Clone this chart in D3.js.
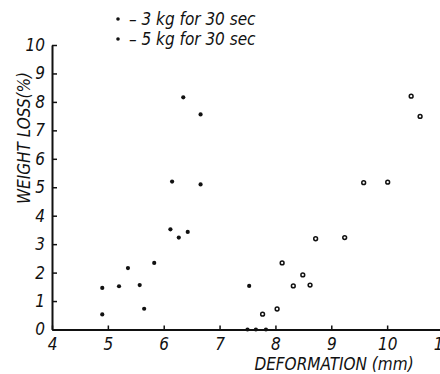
<!DOCTYPE html>
<html>
<head>
<meta charset="utf-8">
<script src="https://cdn.jsdelivr.net/npm/d3@7"></script>
<style>
  body { margin: 0; background: #fff; }
  svg text { font-family: "Liberation Sans Narrow", "DejaVu Sans Condensed", "Liberation Sans", sans-serif; font-style: italic; fill: #111; }
</style>
</head>
<body>
<div id="chart"></div>
<script>
// 3 kg for 30 sec (solid dots)
const kg3Deform = [4.90, 4.90, 5.20, 5.36, 5.57, 5.65, 5.83, 6.12, 6.27, 6.43, 6.15, 6.66, 6.35, 6.66, 7.53, 7.50, 7.65, 7.83];
const kg3Loss = [0.53, 1.46, 1.52, 2.16, 1.56, 0.73, 2.34, 3.52, 3.23, 3.43, 5.20, 5.10, 8.16, 7.56, 1.53, 0, 0, 0];
// 5 kg for 30 sec (ringed dots)
const kg5Deform = [7.77, 8.03, 8.12, 8.32, 8.49, 8.62, 8.72, 9.24, 9.58, 10.01, 10.43, 10.59];
const kg5Loss = [0.54, 0.72, 2.34, 1.53, 1.92, 1.56, 3.19, 3.23, 5.16, 5.18, 8.20, 7.49];

const xTicks = [4, 5, 6, 7, 8, 9, 10, 11];
const yTicks = [0, 1, 2, 3, 4, 5, 6, 7, 8, 9, 10];
const legendLabels = ["– 3 kg for  30 sec", "– 5 kg for  30 sec"];

const width = 440, height = 374;

const svg = d3.select("#chart")
    .append("svg")
    .attr("width", width)
    .attr("height", height);

const x = d3.scaleLinear().domain([4, 11]).range([52, 443]);
const y = d3.scaleLinear().domain([0, 10]).range([329.5, 45]);

// y axis
const yAxis = svg.append("g")
    .attr("transform", `translate(${x(4)},0)`)
    .call(d3.axisLeft(y).tickValues(yTicks).tickFormat(d3.format("d"))
        .tickSizeInner(-5).tickSizeOuter(0).tickPadding(7));

// x axis
const xAxis = svg.append("g")
    .attr("transform", `translate(0,${y(0)})`)
    .call(d3.axisBottom(x).tickValues(xTicks).tickFormat(d3.format("d"))
        .tickSizeInner(-4).tickSizeOuter(0).tickPadding(8));

[yAxis, xAxis].forEach((g) => {
    g.select(".domain").attr("stroke", "#111").attr("stroke-width", 2);
    g.selectAll(".tick line").attr("stroke", "#111").attr("stroke-width", 1.5);
    g.selectAll(".tick text")
        .attr("font-size", 17)
        .attr("font-family", null)
        .attr("fill", "#111");
});

// axis titles
svg.append("text")
    .attr("x", 334)
    .attr("y", 370)
    .attr("text-anchor", "middle")
    .attr("font-size", 17)
    .text("DEFORMATION (mm)");

svg.append("text")
    .attr("transform", "translate(30,138) rotate(-90)")
    .attr("text-anchor", "middle")
    .attr("font-size", 17)
    .text("WEIGHT LOSS(%)");

// points
svg.append("g")
    .selectAll("circle")
    .data(kg3Deform.map((d, i) => [d, kg3Loss[i]]))
    .join("circle")
    .attr("cx", (d) => x(d[0]))
    .attr("cy", (d) => y(d[1]))
    .attr("r", 2.1)
    .attr("fill", "#111");

svg.append("g")
    .selectAll("circle")
    .data(kg5Deform.map((d, i) => [d, kg5Loss[i]]))
    .join("circle")
    .attr("cx", (d) => x(d[0]))
    .attr("cy", (d) => y(d[1]))
    .attr("r", 1.9)
    .attr("fill", "#fff")
    .attr("stroke", "#111")
    .attr("stroke-width", 1.5);

// legend
const legend = svg.append("g")
    .selectAll("g")
    .data(legendLabels)
    .join("g")
    .attr("transform", (d, i) => `translate(118,${19 + i * 20})`);

legend.append("circle")
    .attr("r", 1.8)
    .attr("fill", "#111");

legend.append("text")
    .attr("x", 11)
    .attr("y", 6)
    .attr("font-size", 17)
    .text((d) => d);
</script>
</body>
</html>
